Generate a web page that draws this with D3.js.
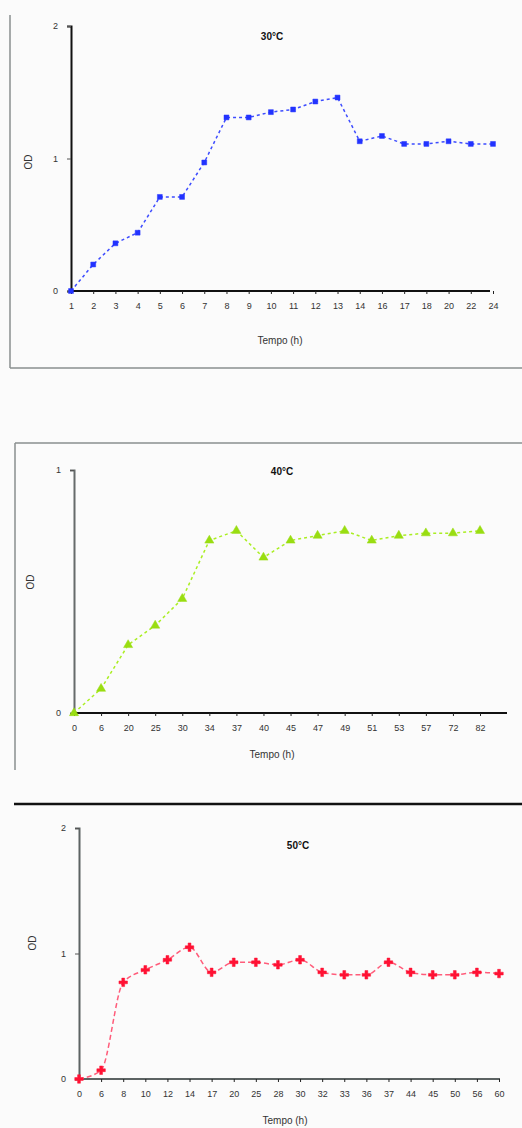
<!DOCTYPE html>
<html><head><meta charset="utf-8">
<script src="https://cdn.jsdelivr.net/npm/d3@7"></script>
<style>
html,body{margin:0;padding:0;background:#fbfbfb;}
svg{display:block;font-family:"Liberation Sans",Arial,sans-serif;}
</style></head>
<body>
<svg id="c" width="522" height="1128"></svg>
<script>
// ---- data ----
const titles = ["30°C", "40°C", "50°C"];
const yLabels = ["OD", "OD", "OD"];
const xLabel = "Tempo (h)";

const cats1 = ["1","2","3","4","5","6","7","8","9","10","11","12","13","14","16","17","18","20","22","24"];
const vals1 = [0.0,0.2,0.36,0.44,0.71,0.71,0.97,1.31,1.31,1.35,1.37,1.43,1.46,1.13,1.17,1.11,1.11,1.13,1.11,1.11];
const yTicks1 = [0,1,2];

const cats2 = ["0","6","20","25","30","34","37","40","45","47","49","51","53","57","72","82"];
const vals2 = [0.0,0.1,0.28,0.36,0.47,0.71,0.75,0.64,0.71,0.73,0.75,0.71,0.73,0.74,0.74,0.75];
const yTicks2 = [0,1];

const cats3 = ["0","6","8","10","12","14","17","20","25","28","30","32","33","36","37","44","45","50","56","60"];
const vals3 = [0.0,0.07,0.77,0.87,0.95,1.05,0.85,0.93,0.93,0.91,0.95,0.85,0.83,0.83,0.93,0.85,0.83,0.83,0.85,0.84];
const yTicks3 = [0,1,2];

const svg = d3.select("#c");

// panel frame lines
svg.append("line").attr("x1",10).attr("x2",10).attr("y1",15).attr("y2",368).attr("stroke","#8a8f8f").attr("stroke-width",1.5);
svg.append("line").attr("x1",10).attr("x2",522).attr("y1",368).attr("y2",368).attr("stroke","#8a8f8f").attr("stroke-width",1.5);
svg.append("line").attr("x1",15).attr("x2",522).attr("y1",443).attr("y2",443).attr("stroke","#8a8f8f").attr("stroke-width",1.5);
svg.append("line").attr("x1",15).attr("x2",15).attr("y1",443).attr("y2",770).attr("stroke","#8a8f8f").attr("stroke-width",1.5);
svg.append("line").attr("x1",14).attr("x2",522).attr("y1",804).attr("y2",804).attr("stroke","#111").attr("stroke-width",2.5);

function panel(cfg){
  const g = svg.append("g");
  const x = d3.scalePoint().domain(cfg.cats).range([cfg.x0, cfg.x1]);
  const y = d3.scaleLinear().domain([0, cfg.ymax]).range([cfg.yb, cfg.yt]);
  // x axis
  const xa = g.append("g").attr("transform",`translate(0,${cfg.yb})`)
    .call(d3.axisBottom(x).tickSize(3).tickPadding(9));
  xa.select(".domain").attr("d",`M${cfg.x0},0H${cfg.xend}`).attr("stroke",cfg.xcol).attr("stroke-width",2);
  xa.selectAll(".tick line").attr("stroke","#222");
  xa.selectAll("text").attr("font-size",9).attr("fill","#333");
  // y axis
  const ya = g.append("g").attr("transform",`translate(${cfg.x0},0)`)
    .call(d3.axisLeft(y).tickValues(cfg.yticks).tickFormat(d3.format("d")).tickSize(4).tickPadding(9));
  ya.select(".domain").attr("stroke",cfg.ycol).attr("stroke-width",2);
  ya.selectAll(".tick line").attr("stroke","#555");
  ya.selectAll("text").attr("font-size",9).attr("fill","#333");
  // labels
  g.append("text").attr("x",cfg.tx).attr("y",cfg.ty).attr("text-anchor","middle")
    .attr("font-size",10).attr("font-weight","bold").attr("fill","#111").text(cfg.title);
  g.append("text").attr("x",cfg.lx).attr("y",cfg.ly).attr("text-anchor","middle")
    .attr("font-size",10).attr("fill","#333").text(xLabel);
  g.append("text").attr("transform",`translate(${cfg.yx},${cfg.yy}) rotate(-90)`).attr("text-anchor","middle")
    .attr("font-size",10).attr("fill","#333").text(cfg.ylab);
  // line
  const data = cfg.cats.map((c,i)=>({c, v:cfg.vals[i]}));
  g.append("path").datum(data)
    .attr("fill","none").attr("stroke",cfg.lcol).attr("stroke-width",1.5)
    .attr("stroke-dasharray",cfg.dash)
    .attr("d", d3.line().x(d=>x(d.c)).y(d=>y(d.v)).curve(cfg.curve));
  // markers
  const sym = d3.symbol().type(cfg.sym).size(cfg.symSize);
  g.selectAll("path.m").data(data).join("path").attr("class","m")
    .attr("transform",d=>`translate(${x(d.c)},${y(d.v)})`)
    .attr("d",sym).attr("fill",cfg.mcol).attr("stroke",cfg.mcol).attr("stroke-width",0.5);
}

panel({cats:cats1, vals:vals1, yticks:yTicks1, ymax:2, x0:71, x1:493, xend:490, yb:291, yt:26,
  xcol:"#111", ycol:"#111", title:titles[0], tx:272, ty:40, lx:280, ly:344, ylab:yLabels[0], yx:32, yy:162,
  lcol:"#3d4cff", mcol:"#2233ff", dash:"3,3", sym:d3.symbolSquare, symSize:24, curve:d3.curveLinear});

panel({cats:cats2, vals:vals2, yticks:yTicks2, ymax:1, x0:74, x1:480, xend:507, yb:713, yt:470,
  xcol:"#111", ycol:"#666b6b", title:titles[1], tx:282, ty:475, lx:272, ly:758, ylab:yLabels[1], yx:34, yy:582,
  lcol:"#aaee22", mcol:"#99dd11", dash:"3,3", sym:d3.symbolTriangle, symSize:36, curve:d3.curveLinear});

panel({cats:cats3, vals:vals3, yticks:yTicks3, ymax:2, x0:79, x1:499, xend:500, yb:1079, yt:828,
  xcol:"#5c6363", ycol:"#5c6363", title:titles[2], tx:298, ty:849, lx:285, ly:1124, ylab:yLabels[2], yx:36, yy:943,
  lcol:"#ff5c7a", mcol:"#ff1133", dash:"5,3", sym:d3.symbolCross, symSize:40, curve:d3.curveMonotoneX});
</script>
</body></html>
